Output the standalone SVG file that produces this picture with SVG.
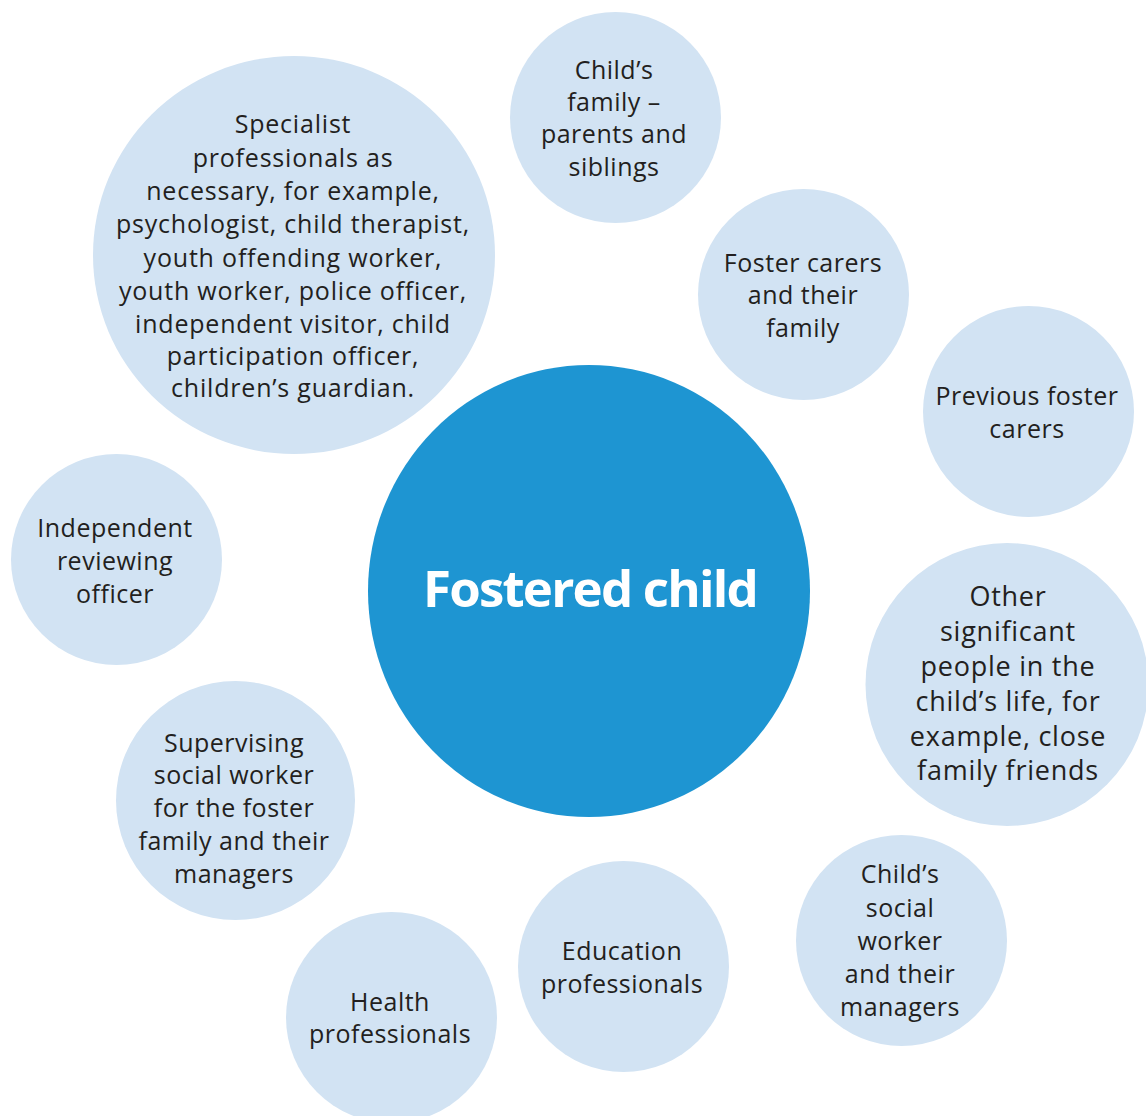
<svg xmlns="http://www.w3.org/2000/svg" width="1146" height="1116" viewBox="0 0 1146 1116">
<style>
.n{fill:#d2e3f3}
.c{fill:#1e95d2}
.t{font-family:"Open Sans","Noto Sans","Liberation Sans",sans-serif;font-size:25px;letter-spacing:0.5px;fill:#231f20;text-anchor:middle}
.s{letter-spacing:0.8px}
.o{font-size:27px;letter-spacing:0.75px}
.big{font-family:"Open Sans","Noto Sans","Liberation Sans",sans-serif;font-size:51px;font-weight:bold;letter-spacing:-1.8px;fill:#ffffff;text-anchor:middle}
</style>
<rect width="1146" height="1116" fill="#ffffff"/>
<g id="connectors"></g>
<g id="specialist">
<ellipse class="n" cx="294" cy="255" rx="201" ry="199"/>
<text class="t s"><tspan x="293" y="133">Specialist</tspan><tspan x="293" y="167">professionals as</tspan><tspan x="293" y="200">necessary, for example,</tspan><tspan x="293" y="233">psychologist, child therapist,</tspan><tspan x="293" y="267">youth offending worker,</tspan><tspan x="293" y="300">youth worker, police officer,</tspan><tspan x="293" y="333">independent visitor, child</tspan><tspan x="293" y="365">participation officer,</tspan><tspan x="293" y="397">children’s guardian.</tspan></text>
</g>
<g id="childs-family">
<circle class="n" cx="615.5" cy="117.5" r="105.5"/>
<text class="t"><tspan x="614" y="79">Child’s</tspan><tspan x="614" y="111">family –</tspan><tspan x="614" y="143">parents and</tspan><tspan x="614" y="176">siblings</tspan></text>
</g>
<g id="foster-carers">
<circle class="n" cx="803.5" cy="294.5" r="105.5"/>
<text class="t"><tspan x="803" y="272">Foster carers</tspan><tspan x="803" y="304">and their</tspan><tspan x="803" y="337">family</tspan></text>
</g>
<g id="previous-foster-carers">
<circle class="n" cx="1028.5" cy="411.5" r="105.5"/>
<text class="t"><tspan x="1027" y="405">Previous foster</tspan><tspan x="1027" y="438">carers</tspan></text>
</g>
<g id="independent-reviewing-officer">
<circle class="n" cx="116.5" cy="559.5" r="105.5"/>
<text class="t"><tspan x="115" y="537">Independent</tspan><tspan x="115" y="570">reviewing</tspan><tspan x="115" y="603">officer</tspan></text>
</g>
<g id="fostered-child">
<ellipse class="c" cx="589" cy="591" rx="221" ry="226"/>
<text class="big" x="590" y="607">Fostered child</text>
</g>
<g id="other-significant">
<circle class="n" cx="1007" cy="684.5" r="141.5"/>
<text class="t o"><tspan x="1008" y="606">Other</tspan><tspan x="1008" y="641">significant</tspan><tspan x="1008" y="676">people in the</tspan><tspan x="1008" y="711">child’s life, for</tspan><tspan x="1008" y="746">example, close</tspan><tspan x="1008" y="780">family friends</tspan></text>
</g>
<g id="supervising-social-worker">
<circle class="n" cx="235.5" cy="800.5" r="119.5"/>
<text class="t"><tspan x="234" y="752">Supervising</tspan><tspan x="234" y="784">social worker</tspan><tspan x="234" y="817">for the foster</tspan><tspan x="234" y="850">family and their</tspan><tspan x="234" y="883">managers</tspan></text>
</g>
<g id="childs-social-worker">
<circle class="n" cx="901.5" cy="940.5" r="105.5"/>
<text class="t"><tspan x="900" y="883">Child’s</tspan><tspan x="900" y="917">social</tspan><tspan x="900" y="950">worker</tspan><tspan x="900" y="983">and their</tspan><tspan x="900" y="1016">managers</tspan></text>
</g>
<g id="education-professionals">
<circle class="n" cx="623.5" cy="966.5" r="105.5"/>
<text class="t"><tspan x="622" y="960">Education</tspan><tspan x="622" y="993">professionals</tspan></text>
</g>
<g id="health-professionals">
<circle class="n" cx="391.5" cy="1017.5" r="105.5"/>
<text class="t"><tspan x="390" y="1011">Health</tspan><tspan x="390" y="1043">professionals</tspan></text>
</g>
</svg>
